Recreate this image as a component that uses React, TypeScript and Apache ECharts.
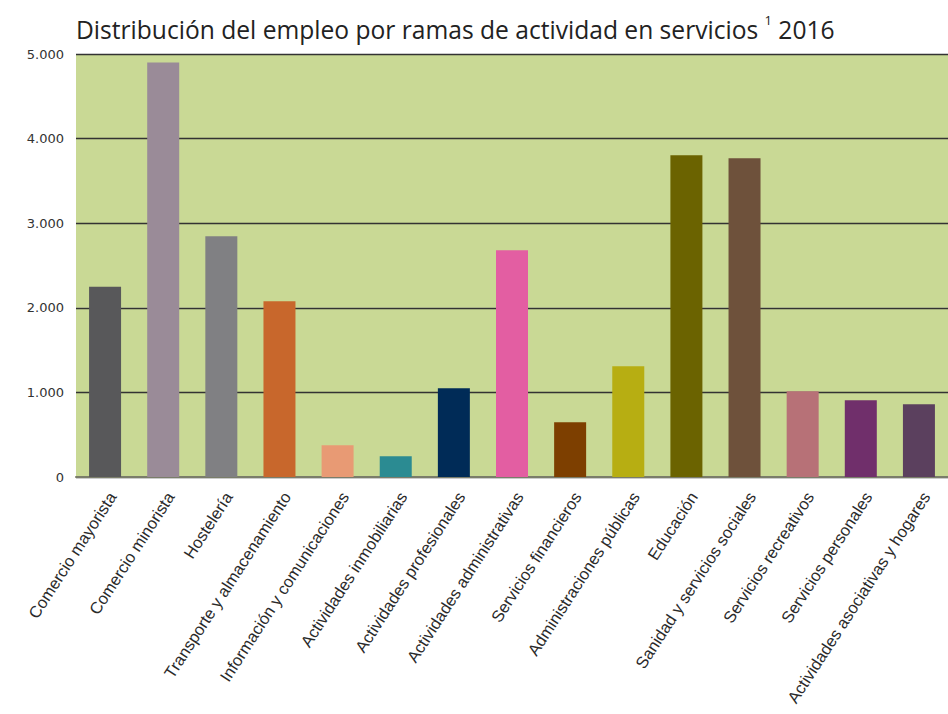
import React, { useEffect, useRef } from "react";
import * as echarts from "echarts";

const categories = [
  "Comercio mayorista",
  "Comercio minorista",
  "Hostelería",
  "Transporte y almacenamiento",
  "Información y comunicaciones",
  "Actividades inmobiliarias",
  "Actividades profesionales",
  "Actividades administrativas",
  "Servicios financieros",
  "Administraciones públicas",
  "Educación",
  "Sanidad y servicios sociales",
  "Servicios recreativos",
  "Servicios personales",
  "Actividades asociativas y hogares",
];

const values = [2250, 4900, 2845, 2077, 375, 245, 1048, 2680, 647, 1308, 3803, 3767, 1013, 906, 859];

const barColors = [
  "#58585a", "#9a8b98", "#808083", "#c8672c", "#e89a74",
  "#2b8b92", "#002b57", "#e35ea2", "#7d3f00", "#b7ae12",
  "#6b6300", "#6e513b", "#b77177", "#702f6b", "#5b405e",
];

const titleMain = "Distribución del empleo por ramas de actividad en servicios ";
const titleSup = "1";
const titleYear = " 2016";

const fmt = (v: number) => (v === 0 ? "0" : v.toLocaleString("de-DE"));

export default function App() {
  const ref = useRef<HTMLDivElement>(null);
  useEffect(() => {
    if (!ref.current) return;
    const chart = echarts.init(ref.current, null, { renderer: "svg" });
    chart.setOption({
      animation: false,
      backgroundColor: "#ffffff",
      title: {
        left: 71,
        top: 5,
        text: `{a|${titleMain}}{s|${titleSup}}{a|${titleYear}}`,
        textStyle: {
          rich: {
            a: { fontFamily: "Open Sans", fontWeight: "normal", fontSize: 24.6, color: "#222", lineHeight: 32, verticalAlign: "bottom" },
            s: { fontFamily: "Open Sans", fontWeight: "normal", fontSize: 13, color: "#222", lineHeight: 32, verticalAlign: "top", padding: [3, 0, 0, 0] },
          },
        },
      },
      grid: { left: 76, right: 0, top: 54, bottom: 237, containLabel: false, outerBoundsMode: "none" },
      xAxis: {
        type: "category",
        data: categories,
        axisLine: { show: true, lineStyle: { color: "#7a7d6a", width: 2 } },
        axisTick: { show: false },
        axisLabel: {
          interval: 0,
          rotate: 57,
          margin: 12,
          fontFamily: "Liberation Sans",
          fontSize: 16.5,
          color: "#2a2a2a",
          verticalAlign: "top",
        },
      },
      yAxis: {
        type: "value",
        min: 0,
        max: 5000,
        interval: 1000,
        axisLine: { show: false },
        axisTick: { show: false },
        axisLabel: {
          formatter: (v: number) => fmt(v),
          fontFamily: "DejaVu Sans",
          fontSize: 13,
          color: "#333",
          margin: 12,
        },
        splitLine: { show: true, lineStyle: { color: "#333", width: 1.3 } },
        splitArea: { show: true, areaStyle: { color: ["#c9d995", "#c9d995"] } },
      },
      series: [
        {
          type: "bar",
          barWidth: 32,
          data: values.map((v, i) => ({ value: v, itemStyle: { color: barColors[i] } })),
        },
      ],
    });
    return () => chart.dispose();
  }, []);
  return (
    <div
      ref={ref}
      style={{ position: "fixed", left: 0, top: 0, width: 948, height: 714 }}
    />
  );
}
